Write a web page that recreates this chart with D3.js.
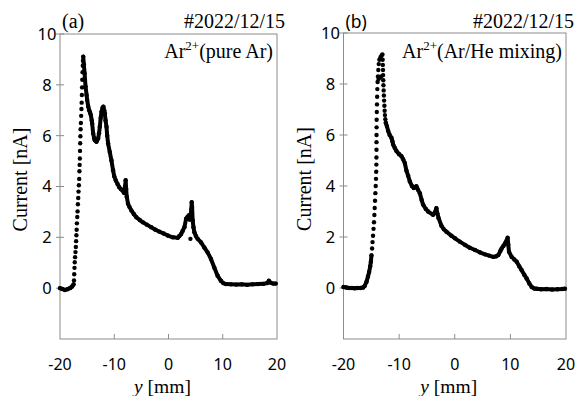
<!DOCTYPE html>
<html>
<head>
<meta charset="utf-8">
<script src="https://cdnjs.cloudflare.com/ajax/libs/d3/7.8.5/d3.min.js"></script>
<style>
  body { margin: 0; background: #fff; }
  svg { display: block; }
</style>
</head>
<body>
<svg id="chart" width="579" height="396"></svg>
<script>
// tick values
const xTicks = [-20, -10, 0, 10, 20];
const yTicks = [0, 2, 4, 6, 8, 10];

// panel (a): Ar2+ in pure Ar, [y mm, current nA]
const traceA = [
  [-20, 0.0], [-19.6, -0.03], [-19.1, -0.07], [-18.6, -0.04], [-18.1, 0.01], [-17.75, 0.07], [-17.5, 0.15],
  [-15.72, 9.11], [-15.6, 8.8], [-15.47, 8.46], [-15.29, 7.93], [-15.1, 7.6], [-14.99, 7.4], [-14.8, 7.15],
  [-14.62, 7.0], [-14.45, 6.9], [-14.31, 6.81], [-14.15, 6.6], [-14.07, 6.48], [-13.89, 6.09], [-13.7, 5.9],
  [-13.58, 5.82], [-13.27, 5.76], [-12.97, 5.89], [-12.8, 6.1], [-12.66, 6.35], [-12.5, 6.7], [-12.35, 6.94],
  [-12.15, 7.1], [-12.0, 7.14], [-11.85, 7.0], [-11.74, 6.88], [-11.6, 6.6], [-11.43, 6.35], [-11.3, 6.0],
  [-11.13, 5.69], [-10.83, 5.36], [-10.52, 5.03], [-10.22, 4.64], [-10.0, 4.4], [-9.72, 4.24], [-9.4, 4.1],
  [-9.11, 3.98], [-8.8, 3.9], [-8.5, 3.85], [-8.2, 3.75], [-8.0, 4.0], [-7.9, 4.25], [-7.8, 3.9], [-7.7, 3.6],
  [-7.46, 3.32], [-7.2, 3.2], [-6.85, 3.06], [-6.4, 2.92], [-5.93, 2.79], [-5.3, 2.68], [-4.72, 2.59],
  [-4.0, 2.5], [-3.18, 2.4], [-2.4, 2.3], [-1.65, 2.22], [-0.9, 2.15], [-0.13, 2.07], [0.8, 2.0], [1.7, 1.98],
  [2.0, 2.05], [2.33, 2.13], [2.6, 2.25], [2.94, 2.4], [3.24, 2.73], [3.5, 2.8], [3.73, 2.86], [3.9, 2.7],
  [4.1, 2.9], [4.2, 3.1], [4.28, 3.38], [4.35, 3.2], [4.46, 2.66], [4.6, 2.4], [4.77, 2.2], [5.05, 2.05],
  [5.38, 1.94], [6.0, 1.8], [6.6, 1.6], [7.21, 1.41], [7.83, 1.15], [8.44, 0.81], [9.05, 0.49], [9.66, 0.29],
  [10.1, 0.2], [10.58, 0.16], [11.5, 0.15], [12.5, 0.14], [13.5, 0.15], [14.5, 0.13], [15.5, 0.15],
  [16.5, 0.16], [17.5, 0.17], [18.2, 0.2], [18.5, 0.29], [18.8, 0.22], [19.3, 0.18], [19.76, 0.18]
];
// sparse points on the steep rising edge and stray dots
const edgeA = [
  [-17.42, 0.3], [-17.38, 0.55], [-17.33, 0.8], [-17.28, 1.02], [-17.22, 1.22], [-17.15, 1.42], [-17.08, 1.62],
  [-17.03, 1.85], [-16.98, 2.08], [-16.93, 2.3], [-16.88, 2.55], [-16.82, 2.8], [-16.76, 3.02], [-16.7, 3.3],
  [-16.64, 3.55], [-16.58, 3.8], [-16.52, 4.05], [-16.46, 4.3], [-16.42, 4.6], [-16.38, 4.85], [-16.34, 5.1],
  [-16.31, 5.4], [-16.28, 5.7], [-16.24, 5.98], [-16.2, 6.25], [-16.15, 6.5], [-16.1, 6.78], [-16.05, 7.05],
  [-16.01, 7.3], [-15.97, 7.6], [-15.93, 7.9], [-15.89, 8.2], [-15.84, 8.5], [-15.8, 8.75], [-15.76, 8.95],
  [4.04, 1.94]
];

// panel (b): Ar2+ in Ar/He mixing
const traceB = [
  [-20, 0.04], [-19.5, 0.02], [-19, 0.0], [-18.5, 0.0], [-18, -0.01], [-17.5, 0.0], [-17, 0.0], [-16.46, 0.02],
  [-16.2, 0.08], [-15.87, 0.24], [-15.6, 0.45], [-15.39, 0.63], [-15.2, 0.85], [-15.08, 1.03], [-14.97, 1.28],
  [-12.4, 6.48], [-12.2, 6.35], [-11.97, 6.16], [-11.7, 6.0], [-11.38, 5.89],
  [-11.2, 5.75], [-11.08, 5.63], [-10.8, 5.5], [-10.48, 5.37], [-10.0, 5.25], [-9.58, 5.17], [-9.28, 5.05],
  [-8.98, 4.9], [-8.68, 4.6], [-8.38, 4.4], [-8.08, 4.18], [-7.7, 4.0], [-7.36, 3.92], [-6.9, 3.99],
  [-6.6, 3.85], [-6.28, 3.72], [-5.95, 3.45], [-5.69, 3.27], [-5.2, 3.1], [-4.79, 3.0], [-3.9, 2.87],
  [-3.6, 2.95], [-3.3, 3.13], [-3.1, 2.9], [-2.9, 2.74], [-2.41, 2.45], [-1.95, 2.3], [-1.5, 2.21],
  [-0.61, 2.05], [0.05, 1.95], [0.9, 1.82], [1.85, 1.69], [2.7, 1.58], [3.64, 1.49], [4.5, 1.4], [5.44, 1.32],
  [6.2, 1.27], [6.93, 1.22], [7.4, 1.24], [7.83, 1.29], [8.2, 1.45], [8.43, 1.55], [8.75, 1.65], [9.03, 1.75],
  [9.3, 1.85], [9.51, 1.97], [9.62, 1.7], [9.75, 1.42], [10.23, 1.22], [10.7, 1.12], [11.13, 1.03],
  [11.6, 0.85], [12.03, 0.7], [12.5, 0.52], [12.93, 0.37], [13.4, 0.18], [13.83, 0.04], [14.3, -0.02],
  [14.72, -0.03], [15.5, -0.05], [16.5, -0.04], [17.5, -0.06], [18.5, -0.05], [19.3, -0.04], [19.8, -0.03]
];
const edgeB = [
  [-14.86, 1.55], [-14.78, 1.8], [-14.69, 2.05], [-14.6, 2.32], [-14.52, 2.58], [-14.45, 2.86], [-14.39, 3.14],
  [-14.33, 3.42], [-14.27, 3.72], [-14.21, 4.0], [-14.16, 4.28], [-14.12, 4.56], [-14.09, 4.84], [-14.08, 5.12],
  [-14.07, 5.42], [-14.07, 5.72], [-14.06, 6.0], [-14.05, 6.3], [-14.04, 6.6], [-14.01, 6.9], [-13.98, 7.2],
  [-13.95, 7.5], [-13.92, 7.8], [-13.87, 8.08], [-13.8, 8.3], [-13.74, 8.55], [-13.66, 8.78], [-13.55, 8.95],
  [-13.35, 9.05], [-13.15, 9.12], [-13.0, 9.16], [-13.7, 8.2], [-13.45, 8.25], [-13.2, 8.3],
  [-12.96, 8.95], [-12.93, 8.75], [-12.9, 8.55], [-12.88, 8.35], [-12.85, 8.15], [-12.82, 7.95], [-12.78, 7.75],
  [-12.74, 7.55], [-12.7, 7.35], [-12.65, 7.15], [-12.6, 6.95], [-12.55, 6.78], [-12.48, 6.62]
];

const panels = [
  { trace: traceA, edge: edgeA, x0: 60, x1: 277, y0: 339, y1: 34, tag: '(a)', tagFont: 'Liberation Serif, serif',
    tagSize: 20, note: '(pure Ar)' },
  { trace: traceB, edge: edgeB, x0: 343.5, x1: 566, y0: 339, y1: 33, tag: '(b)', tagFont: 'Noto Sans, sans-serif',
    tagSize: 17.5, note: '(Ar/He mixing)' }
];

const svg = d3.select('#chart');
const serif = 'Liberation Serif, Times New Roman, serif';
const sans = 'Noto Sans, sans-serif';
const frameColor = '#8c8c8c';

panels.forEach(p => {
  const x = d3.scaleLinear().domain([-20, 20]).range([p.x0, p.x1]);
  const y = d3.scaleLinear().domain([-2, 10]).range([p.y0, p.y1]);
  const g = svg.append('g');

  // frame
  g.append('rect')
    .attr('x', p.x0).attr('y', p.y1)
    .attr('width', p.x1 - p.x0).attr('height', p.y0 - p.y1)
    .attr('fill', 'none').attr('stroke', frameColor).attr('stroke-width', 1);

  // y ticks (crossing the frame) and labels
  g.selectAll('.yt').data(yTicks).enter().append('line')
    .attr('x1', p.x0 - 4).attr('x2', p.x0 + 4)
    .attr('y1', d => y(d)).attr('y2', d => y(d))
    .attr('stroke', frameColor);
  g.selectAll('.yl').data(yTicks).enter().append('text')
    .attr('x', p.x0 - 13).attr('y', d => y(d))
    .attr('dy', '0.36em').attr('text-anchor', 'middle')
    .attr('font-family', sans).attr('font-size', 16.5)
    .text(d => d);

  // x ticks (inside) and labels
  g.selectAll('.xt').data(xTicks.slice(1, -1)).enter().append('line')
    .attr('x1', d => x(d)).attr('x2', d => x(d))
    .attr('y1', p.y0).attr('y2', p.y0 - 5)
    .attr('stroke', frameColor);
  g.selectAll('.xl').data(xTicks).enter().append('text')
    .attr('x', d => x(d)).attr('y', 370)
    .attr('text-anchor', 'middle')
    .attr('font-family', sans).attr('font-size', 16)
    .text(d => d);

  // axis titles
  const xt = g.append('text')
    .attr('x', (p.x0 + p.x1) / 2 - 6).attr('y', 393)
    .attr('text-anchor', 'middle')
    .attr('font-family', serif).attr('font-size', 19.5);
  xt.append('tspan').attr('font-style', 'italic').text('y');
  xt.append('tspan').text(' [mm]');

  g.append('text')
    .attr('transform', `translate(${p.x0 - 33},${(p.y0 + p.y1) / 2 - 7}) rotate(-90)`)
    .attr('text-anchor', 'middle')
    .attr('font-family', serif).attr('font-size', 20)
    .text('Current [nA]');

  // panel annotations
  g.append('text')
    .attr('x', p.x0 + 2).attr('y', 28)
    .attr('font-family', p.tagFont).attr('font-size', p.tagSize)
    .text(p.tag);
  g.append('text')
    .attr('x', p.x1 + 8).attr('y', 28)
    .attr('text-anchor', 'end')
    .attr('font-family', serif).attr('font-size', 20)
    .text('#2022/12/15');
  const lab = g.append('text')
    .attr('x', p.x1 - 4).attr('y', 58)
    .attr('text-anchor', 'end')
    .attr('font-family', serif).attr('font-size', 20);
  lab.append('tspan').text('Ar');
  lab.append('tspan').attr('font-size', 13).attr('dy', -8).text('2+');
  lab.append('tspan').attr('dy', 8).text(p.note);

  // measured current: dense stretches as a thick band of dots, sparse edges as dots only
  const line = d3.line().x(d => x(d[0])).y(d => y(d[1]));
  // split the dense trace where it jumps across the sparse rising edge
  const cut = p.trace.findIndex((d, i) => i > 0 && d[1] - p.trace[i - 1][1] > 3);
  [p.trace.slice(0, cut), p.trace.slice(cut)].forEach(part => {
    g.append('path')
      .datum(part)
      .attr('d', line)
      .attr('fill', 'none').attr('stroke', '#000').attr('stroke-width', 4)
      .attr('stroke-linejoin', 'round').attr('stroke-linecap', 'round');
  });
  g.selectAll('.pt').data(p.trace.concat(p.edge)).enter().append('circle')
    .attr('cx', d => x(d[0])).attr('cy', d => y(d[1]))
    .attr('r', 2.2).attr('fill', '#000');
});
</script>
</body>
</html>
